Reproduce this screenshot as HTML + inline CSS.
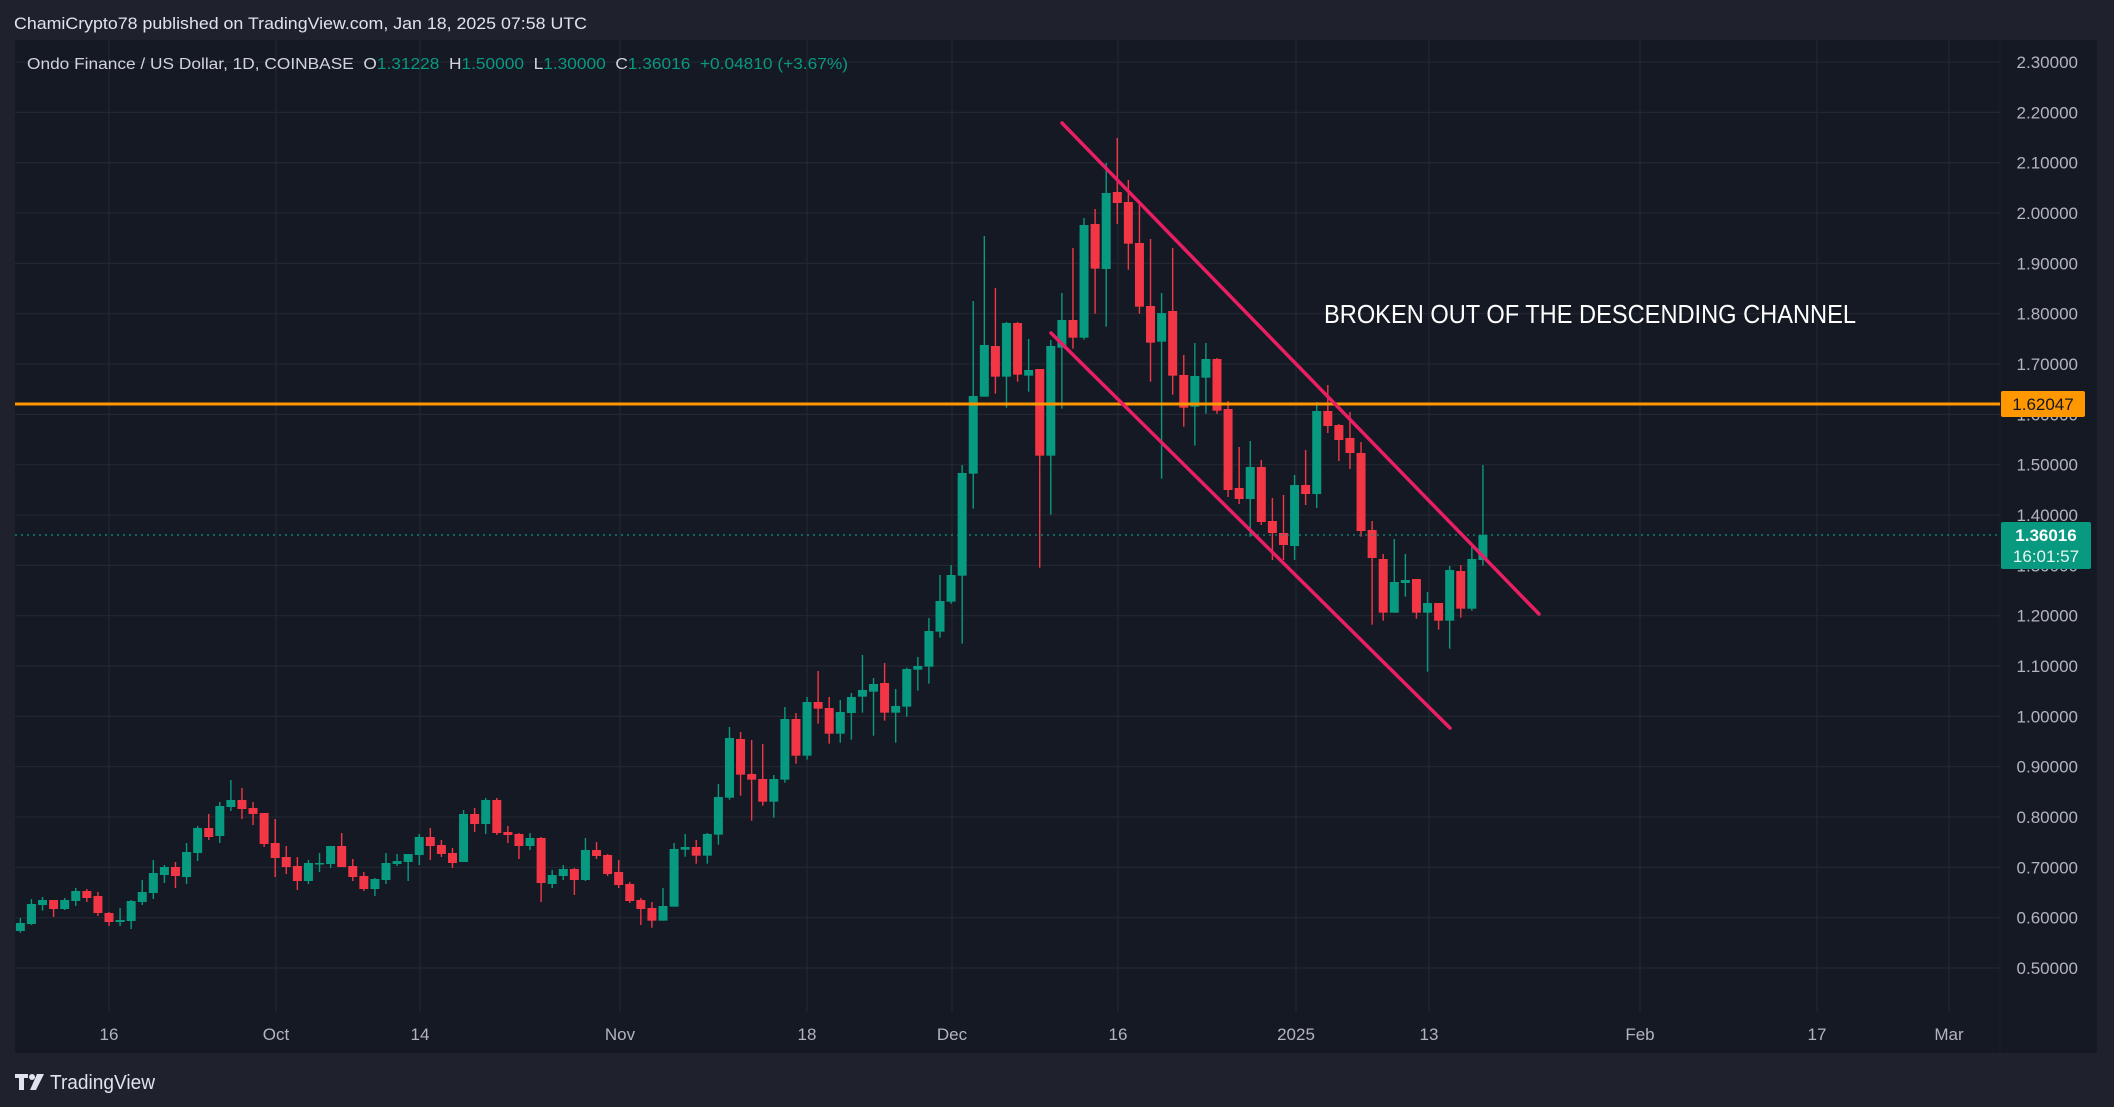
<!DOCTYPE html>
<html><head><meta charset="utf-8"><style>
html,body{margin:0;padding:0;background:#1f222d;}
svg{display:block;}
text{font-family:"Liberation Sans",sans-serif;}
</style></head><body>
<svg id="s" width="2114" height="1107" viewBox="0 0 2114 1107" xmlns="http://www.w3.org/2000/svg">
<rect x="0" y="0" width="2114" height="1107" fill="#1f222d"/>
<rect x="15" y="40" width="2082" height="1013" fill="#151924"/>
<line x1="2000" y1="40" x2="2000" y2="1053" stroke="#1c2029" stroke-width="1"/>
<g id="grid" stroke="#232731" stroke-width="1.2"></g>
<g id="plabels" fill="#b2b5be" font-size="17" text-anchor="end"></g>
<g id="tlabels" fill="#b2b5be" font-size="17" text-anchor="middle"></g>
<g id="candles"></g>
<line x1="15" y1="535" x2="2000" y2="535" stroke="#089981" stroke-width="1.3" stroke-dasharray="2,4"/>
<line x1="15" y1="404" x2="2000" y2="404" stroke="#ff9800" stroke-width="3"/>
<line x1="1062" y1="123" x2="1539" y2="614" stroke="#e91e63" stroke-width="3.5" stroke-linecap="round"/>
<line x1="1051" y1="333" x2="1450" y2="728" stroke="#e91e63" stroke-width="3.5" stroke-linecap="round"/>
<text x="1324" y="323" font-size="26" fill="#ffffff" textLength="532" lengthAdjust="spacingAndGlyphs">BROKEN OUT OF THE DESCENDING CHANNEL</text>
<rect x="2001" y="391" width="84" height="26" rx="2" fill="#ff9800"/>
<text x="2043" y="410" font-size="17" fill="#131722" text-anchor="middle">1.62047</text>
<rect x="2001" y="522" width="90" height="47" rx="2" fill="#089981"/>
<text x="2046" y="541" font-size="17" fill="#ffffff" text-anchor="middle" font-weight="bold">1.36016</text>
<text x="2046" y="562" font-size="17" fill="#e8f5f1" text-anchor="middle">16:01:57</text>
<text x="14" y="29" font-size="17" fill="#e0e3eb" textLength="573" lengthAdjust="spacingAndGlyphs">ChamiCrypto78 published on TradingView.com, Jan 18, 2025 07:58 UTC</text>
<text x="27" y="69" font-size="16" textLength="821" lengthAdjust="spacingAndGlyphs"><tspan fill="#d1d4dc">Ondo Finance / US Dollar, 1D, COINBASE&#160;&#160;O</tspan><tspan fill="#089981">1.31228&#160;&#160;</tspan><tspan fill="#d1d4dc">H</tspan><tspan fill="#089981">1.50000&#160;&#160;</tspan><tspan fill="#d1d4dc">L</tspan><tspan fill="#089981">1.30000&#160;&#160;</tspan><tspan fill="#d1d4dc">C</tspan><tspan fill="#089981">1.36016&#160;&#160;+0.04810&#160;(+3.67%)</tspan></text>
<g fill="#e0e3eb">
<path d="M15 1074h13v4h-4v12h-5v-12h-4z"/>
<circle cx="32" cy="1077" r="3"/>
<path d="M37 1074h7l-8 16h-6z"/>
</g>
<text x="50" y="1089" font-size="20" fill="#e0e3eb" textLength="105" lengthAdjust="spacingAndGlyphs">TradingView</text>
</svg>
<script>
var NS="http://www.w3.org/2000/svg";
function el(p,t,a,txt){var e=document.createElementNS(NS,t);for(var k in a)e.setAttribute(k,a[k]);if(txt!==undefined)e.textContent=txt;document.getElementById(p).appendChild(e);return e;}
function yp(p){return 968-(p-0.5)*503.3;}
for(var i=0;i<=18;i++){var p=0.5+i*0.1;var y=yp(p);
 el("grid","line",{x1:15,y1:y,x2:2000,y2:y});
 el("plabels","text",{x:2078,y:y+6},p.toFixed(5));}
var tl=[[109,"16"],[276,"Oct"],[420,"14"],[620,"Nov"],[807,"18"],[952,"Dec"],[1118,"16"],[1296,"2025"],[1429,"13"],[1640,"Feb"],[1817,"17"],[1949,"Mar"]];
tl.forEach(function(t){el("grid","line",{x1:t[0],y1:40,x2:t[0],y2:1012});el("tlabels","text",{x:t[0],y:1040},t[1]);});
var D=[
[760,"g",489,513,474,518],[760,"g",432,492,417,495],[760,"g",420,435,411,452],[760,"r",420,447,420,471],[760,"g",420,447,414,450],
[760,"g",393,423,384,438],[760,"r",393,414,387,426],[760,"r",408,459,396,468],[760,"r",459,486,456,498],[760,"g",480,486,444,498],
[760,"g",423,483,420,507],[760,"g",396,426,360,435],[760,"g",339,399,300,417],[760,"g",321,345,315,369],[760,"r",321,348,306,384],
[760,"g",276,351,249,372],[760,"g",204,279,198,303],[760,"r",204,231,162,240],[760,"g",138,228,126,249],[760,"g",120,141,60,153],
[760,"r",120,147,84,177],[760,"r",144,162,126,195],[760,"r",159,252,159,261],[760,"r",249,294,177,351],[760,"r",291,321,258,342],
[760,"r",318,363,291,390],[760,"g",309,363,300,372],[760,"g",309,312,279,336],[760,"g",258,312,258,324],[760,"r",258,321,219,321],
[760,"r",318,351,297,363],[760,"r",348,387,336,393],[760,"g",357,387,354,408],[760,"g",309,360,279,372],[760,"g",303,312,282,318],
[760,"g",282,306,282,363],[760,"g",231,285,222,315],[760,"r",231,258,204,300],[760,"r",255,282,240,291],[760,"r",279,309,264,324],
[760,"g",162,306,150,306],[760,"r",162,192,144,216],[760,"g",120,192,114,222],[760,"r",120,219,114,225],[760,"r",216,225,198,249],
[760,"r",222,258,219,297],[760,"g",234,258,219,270],[760,"r",234,369,231,426],[760,"g",345,372,330,384],[760,"g",327,348,315,360],
[760,"r",327,360,324,405],[760,"g",270,360,234,363],[760,"r",270,288,246,297],[760,"r",285,342,282,348],[760,"r",336,375,300,384],
[760,"r",372,423,366,429],[760,"r",420,447,414,495],
[550,"r",1074,1112,1056,1133],[550,"g",1068,1112,1014,1112],[550,"g",897,1070,879,1070],[550,"g",891,899,852,920],[550,"r",891,917,870,941],
[550,"g",852,917,849,941],[550,"g",741,854,702,884],[550,"g",564,743,531,749],[550,"r",567,674,546,737],[550,"r",672,689,570,812],
[550,"r",687,755,582,767],[550,"g",687,755,675,803],[550,"g",507,689,471,698],[550,"r",507,617,489,641],[550,"g",456,617,441,629],
[550,"r",456,476,363,521],[550,"r",474,551,441,581],[550,"g",486,551,450,578],[550,"g",441,489,429,569],[550,"g",420,440,315,488],
[550,"g",402,425,384,557],[550,"r",399,488,339,512],[550,"g",468,488,417,578],[550,"g",357,470,353,500],[550,"g",348,359,321,422],
[550,"g",243,350,204,401],[550,"g",153,245,75,263],[550,"g",75,155,45,161],
[200,"g",819,1127,795,1331],[200,"g",588,821,303,926],[200,"g",435,590,108,590],[200,"r",438,530,264,581],[200,"g",369,530,366,623],
[200,"r",369,524,366,545],[200,"g",510,527,417,575],[200,"r",507,767,507,1103],[200,"g",438,767,420,944],[200,"g",360,443,279,626],
[200,"r",360,413,144,446],[200,"g",75,413,54,419],[200,"r",72,206,27,341],
[110,"g",249,477,159,650],[110,"r",246,279,84,342],
[200,"r",6,131,-60,209],[200,"r",129,320,9,341],[200,"r",318,428,117,545],[200,"g",339,425,279,836],[200,"r",333,527,144,584],
[200,"r",525,623,465,680],[200,"g",528,620,429,737],[200,"g",477,533,429,641],[200,"r",477,632,474,641],
[380,"r",87,330,63,351],[380,"r",324,357,201,372],[380,"g",261,357,183,470],[380,"r",261,426,240,435],[380,"r",423,459,354,540],
[380,"r",459,495,345,540],[380,"g",315,498,285,540],[380,"r",315,342,210,375],[380,"g",93,342,66,384],[380,"r",93,138,15,159],
[380,"r",135,180,132,243],[380,"r",174,219,96,267],[380,"r",219,453,186,470],[380,"r",450,534,423,734],[380,"r",537,698,522,722],
[380,"g",606,698,477,698],[380,"g",600,609,522,650],[380,"r",597,698,597,716],[380,"g",669,698,636,875],[380,"r",669,722,669,749],
[380,"g",570,722,558,806],[380,"r",573,686,555,713],[380,"g",537,686,501,692],[380,"g",465,540,255,557]
];
D.forEach(function(c,i){var x=109+11.08*(i-8);var o=c[0];var col=c[1]=="g"?"#089981":"#f23645";
 var bt=o+c[2]/3,bb=o+c[3]/3,wt=o+c[4]/3,wb=o+c[5]/3;
 el("candles","rect",{x:x-0.7,y:wt,width:1.4,height:Math.max(wb-wt,1),fill:col});
 el("candles","rect",{x:x-4.5,y:bt,width:9,height:Math.max(bb-bt,1.5),fill:col});});
</script>
</body></html>
